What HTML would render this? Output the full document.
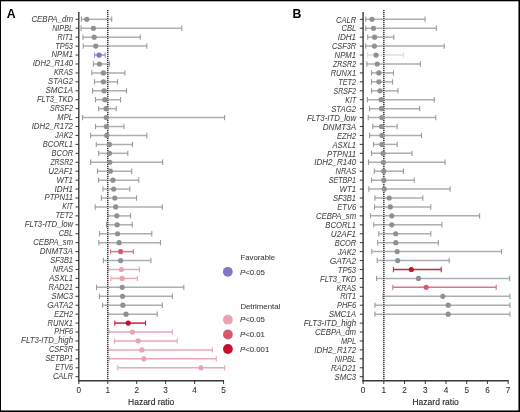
<!DOCTYPE html>
<html><head><meta charset="utf-8">
<style>
html,body{margin:0;padding:0;background:#fff;}
body{width:520px;height:412px;overflow:hidden;position:relative;}
svg{position:absolute;left:0;top:0;will-change:transform;}
text{font-family:"Liberation Sans",sans-serif;}
.lb{font-size:8.6px;font-style:italic;fill:#444;stroke:#444;stroke-width:0.04px;text-anchor:end;}
.tk{font-size:8.2px;fill:#2a2a2a;stroke:#2a2a2a;stroke-width:0.06px;text-anchor:middle;}
.ax{font-size:8.5px;fill:#222;stroke:#222;stroke-width:0.1px;text-anchor:middle;}
.pl{font-size:12.3px;font-weight:bold;fill:#000;}
.lg{font-size:7.8px;fill:#383838;stroke:#383838;stroke-width:0.06px;}
.bd{position:absolute;background:#000;}
</style></head>
<body>
<svg width="520" height="412" viewBox="0 0 520 412">
<rect width="520" height="412" fill="#fff"/>
<line x1="81.4" y1="19.3" x2="111.7" y2="19.3" stroke="#acaeb1" stroke-width="1.5"/>
<line x1="81.1" y1="28.23" x2="181.8" y2="28.23" stroke="#acaeb1" stroke-width="1.5"/>
<line x1="82.9" y1="37.17" x2="140.3" y2="37.17" stroke="#acaeb1" stroke-width="1.5"/>
<line x1="83.2" y1="46.11" x2="146.8" y2="46.11" stroke="#acaeb1" stroke-width="1.5"/>
<line x1="94.5" y1="55.04" x2="105.2" y2="55.04" stroke="#9a97d4" stroke-width="1.5"/>
<line x1="93.4" y1="63.98" x2="109.5" y2="63.98" stroke="#acaeb1" stroke-width="1.5"/>
<line x1="91.8" y1="72.91" x2="124.9" y2="72.91" stroke="#acaeb1" stroke-width="1.5"/>
<line x1="94.5" y1="81.84" x2="117.5" y2="81.84" stroke="#acaeb1" stroke-width="1.5"/>
<line x1="92.5" y1="90.78" x2="126.5" y2="90.78" stroke="#acaeb1" stroke-width="1.5"/>
<line x1="95.5" y1="99.72" x2="120.6" y2="99.72" stroke="#acaeb1" stroke-width="1.5"/>
<line x1="98.6" y1="108.65" x2="116.3" y2="108.65" stroke="#acaeb1" stroke-width="1.5"/>
<line x1="82.5" y1="117.59" x2="224.6" y2="117.59" stroke="#acaeb1" stroke-width="1.5"/>
<line x1="95.5" y1="126.52" x2="124" y2="126.52" stroke="#acaeb1" stroke-width="1.5"/>
<line x1="90.6" y1="135.46" x2="146.8" y2="135.46" stroke="#acaeb1" stroke-width="1.5"/>
<line x1="96.3" y1="144.39" x2="132.5" y2="144.39" stroke="#acaeb1" stroke-width="1.5"/>
<line x1="98.6" y1="153.33" x2="127.8" y2="153.33" stroke="#acaeb1" stroke-width="1.5"/>
<line x1="90.6" y1="162.26" x2="162.6" y2="162.26" stroke="#acaeb1" stroke-width="1.5"/>
<line x1="97.5" y1="171.2" x2="131.7" y2="171.2" stroke="#acaeb1" stroke-width="1.5"/>
<line x1="98.6" y1="180.13" x2="138.8" y2="180.13" stroke="#acaeb1" stroke-width="1.5"/>
<line x1="102.9" y1="189.07" x2="129.8" y2="189.07" stroke="#acaeb1" stroke-width="1.5"/>
<line x1="101.4" y1="198" x2="136.5" y2="198" stroke="#acaeb1" stroke-width="1.5"/>
<line x1="95.2" y1="206.94" x2="162.3" y2="206.94" stroke="#acaeb1" stroke-width="1.5"/>
<line x1="108" y1="215.87" x2="130.6" y2="215.87" stroke="#acaeb1" stroke-width="1.5"/>
<line x1="106.5" y1="224.81" x2="132.2" y2="224.81" stroke="#acaeb1" stroke-width="1.5"/>
<line x1="99.5" y1="233.74" x2="151.8" y2="233.74" stroke="#acaeb1" stroke-width="1.5"/>
<line x1="98.8" y1="242.68" x2="160.5" y2="242.68" stroke="#acaeb1" stroke-width="1.5"/>
<line x1="110.6" y1="251.61" x2="133.4" y2="251.61" stroke="#df7489" stroke-width="1.5"/>
<line x1="103.4" y1="260.55" x2="150.9" y2="260.55" stroke="#acaeb1" stroke-width="1.5"/>
<line x1="108.6" y1="269.48" x2="139.5" y2="269.48" stroke="#eaa9b5" stroke-width="1.5"/>
<line x1="110.8" y1="278.42" x2="137.5" y2="278.42" stroke="#eaa9b5" stroke-width="1.5"/>
<line x1="96.5" y1="287.35" x2="183.8" y2="287.35" stroke="#acaeb1" stroke-width="1.5"/>
<line x1="99.4" y1="296.29" x2="172.3" y2="296.29" stroke="#acaeb1" stroke-width="1.5"/>
<line x1="102.5" y1="305.22" x2="162.3" y2="305.22" stroke="#acaeb1" stroke-width="1.5"/>
<line x1="108" y1="314.16" x2="157.2" y2="314.16" stroke="#acaeb1" stroke-width="1.5"/>
<line x1="114.8" y1="323.09" x2="145.5" y2="323.09" stroke="#cc2440" stroke-width="1.5"/>
<line x1="109" y1="332.03" x2="172.4" y2="332.03" stroke="#eaa9b5" stroke-width="1.5"/>
<line x1="114.5" y1="340.96" x2="177.3" y2="340.96" stroke="#eaa9b5" stroke-width="1.5"/>
<line x1="108.5" y1="349.9" x2="212.3" y2="349.9" stroke="#eaa9b5" stroke-width="1.5"/>
<line x1="109.3" y1="358.83" x2="216.3" y2="358.83" stroke="#eaa9b5" stroke-width="1.5"/>
<line x1="117.8" y1="367.77" x2="224.8" y2="367.77" stroke="#eaa9b5" stroke-width="1.5"/>
<line x1="81.4" y1="16.6" x2="81.4" y2="22" stroke="#999b9e" stroke-width="1.1"/>
<line x1="111.7" y1="16.6" x2="111.7" y2="22" stroke="#999b9e" stroke-width="1.1"/>
<line x1="81.1" y1="25.54" x2="81.1" y2="30.93" stroke="#999b9e" stroke-width="1.1"/>
<line x1="181.8" y1="25.54" x2="181.8" y2="30.93" stroke="#999b9e" stroke-width="1.1"/>
<line x1="82.9" y1="34.47" x2="82.9" y2="39.87" stroke="#999b9e" stroke-width="1.1"/>
<line x1="140.3" y1="34.47" x2="140.3" y2="39.87" stroke="#999b9e" stroke-width="1.1"/>
<line x1="83.2" y1="43.41" x2="83.2" y2="48.81" stroke="#999b9e" stroke-width="1.1"/>
<line x1="146.8" y1="43.41" x2="146.8" y2="48.81" stroke="#999b9e" stroke-width="1.1"/>
<line x1="94.5" y1="52.34" x2="94.5" y2="57.74" stroke="#9a97d4" stroke-width="1.1"/>
<line x1="105.2" y1="52.34" x2="105.2" y2="57.74" stroke="#9a97d4" stroke-width="1.1"/>
<line x1="93.4" y1="61.28" x2="93.4" y2="66.68" stroke="#999b9e" stroke-width="1.1"/>
<line x1="109.5" y1="61.28" x2="109.5" y2="66.68" stroke="#999b9e" stroke-width="1.1"/>
<line x1="91.8" y1="70.21" x2="91.8" y2="75.61" stroke="#999b9e" stroke-width="1.1"/>
<line x1="124.9" y1="70.21" x2="124.9" y2="75.61" stroke="#999b9e" stroke-width="1.1"/>
<line x1="94.5" y1="79.14" x2="94.5" y2="84.55" stroke="#999b9e" stroke-width="1.1"/>
<line x1="117.5" y1="79.14" x2="117.5" y2="84.55" stroke="#999b9e" stroke-width="1.1"/>
<line x1="92.5" y1="88.08" x2="92.5" y2="93.48" stroke="#999b9e" stroke-width="1.1"/>
<line x1="126.5" y1="88.08" x2="126.5" y2="93.48" stroke="#999b9e" stroke-width="1.1"/>
<line x1="95.5" y1="97.02" x2="95.5" y2="102.42" stroke="#999b9e" stroke-width="1.1"/>
<line x1="120.6" y1="97.02" x2="120.6" y2="102.42" stroke="#999b9e" stroke-width="1.1"/>
<line x1="98.6" y1="105.95" x2="98.6" y2="111.35" stroke="#999b9e" stroke-width="1.1"/>
<line x1="116.3" y1="105.95" x2="116.3" y2="111.35" stroke="#999b9e" stroke-width="1.1"/>
<line x1="82.5" y1="114.89" x2="82.5" y2="120.29" stroke="#999b9e" stroke-width="1.1"/>
<line x1="224.6" y1="114.89" x2="224.6" y2="120.29" stroke="#999b9e" stroke-width="1.1"/>
<line x1="95.5" y1="123.82" x2="95.5" y2="129.22" stroke="#999b9e" stroke-width="1.1"/>
<line x1="124" y1="123.82" x2="124" y2="129.22" stroke="#999b9e" stroke-width="1.1"/>
<line x1="90.6" y1="132.76" x2="90.6" y2="138.16" stroke="#999b9e" stroke-width="1.1"/>
<line x1="146.8" y1="132.76" x2="146.8" y2="138.16" stroke="#999b9e" stroke-width="1.1"/>
<line x1="96.3" y1="141.69" x2="96.3" y2="147.09" stroke="#999b9e" stroke-width="1.1"/>
<line x1="132.5" y1="141.69" x2="132.5" y2="147.09" stroke="#999b9e" stroke-width="1.1"/>
<line x1="98.6" y1="150.63" x2="98.6" y2="156.03" stroke="#999b9e" stroke-width="1.1"/>
<line x1="127.8" y1="150.63" x2="127.8" y2="156.03" stroke="#999b9e" stroke-width="1.1"/>
<line x1="90.6" y1="159.56" x2="90.6" y2="164.96" stroke="#999b9e" stroke-width="1.1"/>
<line x1="162.6" y1="159.56" x2="162.6" y2="164.96" stroke="#999b9e" stroke-width="1.1"/>
<line x1="97.5" y1="168.5" x2="97.5" y2="173.9" stroke="#999b9e" stroke-width="1.1"/>
<line x1="131.7" y1="168.5" x2="131.7" y2="173.9" stroke="#999b9e" stroke-width="1.1"/>
<line x1="98.6" y1="177.43" x2="98.6" y2="182.83" stroke="#999b9e" stroke-width="1.1"/>
<line x1="138.8" y1="177.43" x2="138.8" y2="182.83" stroke="#999b9e" stroke-width="1.1"/>
<line x1="102.9" y1="186.37" x2="102.9" y2="191.77" stroke="#999b9e" stroke-width="1.1"/>
<line x1="129.8" y1="186.37" x2="129.8" y2="191.77" stroke="#999b9e" stroke-width="1.1"/>
<line x1="101.4" y1="195.3" x2="101.4" y2="200.7" stroke="#999b9e" stroke-width="1.1"/>
<line x1="136.5" y1="195.3" x2="136.5" y2="200.7" stroke="#999b9e" stroke-width="1.1"/>
<line x1="95.2" y1="204.24" x2="95.2" y2="209.64" stroke="#999b9e" stroke-width="1.1"/>
<line x1="162.3" y1="204.24" x2="162.3" y2="209.64" stroke="#999b9e" stroke-width="1.1"/>
<line x1="108" y1="213.17" x2="108" y2="218.57" stroke="#999b9e" stroke-width="1.1"/>
<line x1="130.6" y1="213.17" x2="130.6" y2="218.57" stroke="#999b9e" stroke-width="1.1"/>
<line x1="106.5" y1="222.11" x2="106.5" y2="227.51" stroke="#999b9e" stroke-width="1.1"/>
<line x1="132.2" y1="222.11" x2="132.2" y2="227.51" stroke="#999b9e" stroke-width="1.1"/>
<line x1="99.5" y1="231.04" x2="99.5" y2="236.44" stroke="#999b9e" stroke-width="1.1"/>
<line x1="151.8" y1="231.04" x2="151.8" y2="236.44" stroke="#999b9e" stroke-width="1.1"/>
<line x1="98.8" y1="239.98" x2="98.8" y2="245.38" stroke="#999b9e" stroke-width="1.1"/>
<line x1="160.5" y1="239.98" x2="160.5" y2="245.38" stroke="#999b9e" stroke-width="1.1"/>
<line x1="110.6" y1="248.91" x2="110.6" y2="254.31" stroke="#df7489" stroke-width="1.1"/>
<line x1="133.4" y1="248.91" x2="133.4" y2="254.31" stroke="#df7489" stroke-width="1.1"/>
<line x1="103.4" y1="257.85" x2="103.4" y2="263.25" stroke="#999b9e" stroke-width="1.1"/>
<line x1="150.9" y1="257.85" x2="150.9" y2="263.25" stroke="#999b9e" stroke-width="1.1"/>
<line x1="108.6" y1="266.78" x2="108.6" y2="272.18" stroke="#eaa9b5" stroke-width="1.1"/>
<line x1="139.5" y1="266.78" x2="139.5" y2="272.18" stroke="#eaa9b5" stroke-width="1.1"/>
<line x1="110.8" y1="275.72" x2="110.8" y2="281.12" stroke="#eaa9b5" stroke-width="1.1"/>
<line x1="137.5" y1="275.72" x2="137.5" y2="281.12" stroke="#eaa9b5" stroke-width="1.1"/>
<line x1="96.5" y1="284.65" x2="96.5" y2="290.05" stroke="#999b9e" stroke-width="1.1"/>
<line x1="183.8" y1="284.65" x2="183.8" y2="290.05" stroke="#999b9e" stroke-width="1.1"/>
<line x1="99.4" y1="293.59" x2="99.4" y2="298.99" stroke="#999b9e" stroke-width="1.1"/>
<line x1="172.3" y1="293.59" x2="172.3" y2="298.99" stroke="#999b9e" stroke-width="1.1"/>
<line x1="102.5" y1="302.52" x2="102.5" y2="307.92" stroke="#999b9e" stroke-width="1.1"/>
<line x1="162.3" y1="302.52" x2="162.3" y2="307.92" stroke="#999b9e" stroke-width="1.1"/>
<line x1="108" y1="311.46" x2="108" y2="316.86" stroke="#999b9e" stroke-width="1.1"/>
<line x1="157.2" y1="311.46" x2="157.2" y2="316.86" stroke="#999b9e" stroke-width="1.1"/>
<line x1="114.8" y1="320.39" x2="114.8" y2="325.79" stroke="#cc2440" stroke-width="1.1"/>
<line x1="145.5" y1="320.39" x2="145.5" y2="325.79" stroke="#cc2440" stroke-width="1.1"/>
<line x1="109" y1="329.33" x2="109" y2="334.73" stroke="#eaa9b5" stroke-width="1.1"/>
<line x1="172.4" y1="329.33" x2="172.4" y2="334.73" stroke="#eaa9b5" stroke-width="1.1"/>
<line x1="114.5" y1="338.26" x2="114.5" y2="343.66" stroke="#eaa9b5" stroke-width="1.1"/>
<line x1="177.3" y1="338.26" x2="177.3" y2="343.66" stroke="#eaa9b5" stroke-width="1.1"/>
<line x1="108.5" y1="347.2" x2="108.5" y2="352.6" stroke="#eaa9b5" stroke-width="1.1"/>
<line x1="212.3" y1="347.2" x2="212.3" y2="352.6" stroke="#eaa9b5" stroke-width="1.1"/>
<line x1="109.3" y1="356.13" x2="109.3" y2="361.53" stroke="#eaa9b5" stroke-width="1.1"/>
<line x1="216.3" y1="356.13" x2="216.3" y2="361.53" stroke="#eaa9b5" stroke-width="1.1"/>
<line x1="117.8" y1="365.07" x2="117.8" y2="370.47" stroke="#eaa9b5" stroke-width="1.1"/>
<line x1="224.8" y1="365.07" x2="224.8" y2="370.47" stroke="#eaa9b5" stroke-width="1.1"/>
<line x1="107.75" y1="10" x2="107.75" y2="380" stroke="#cfcfcf" stroke-width="1.4"/>
<line x1="107.75" y1="10" x2="107.75" y2="380" stroke="#2e2e2e" stroke-width="1.4" stroke-dasharray="1 1"/>
<circle cx="86.8" cy="19.3" r="2.6" fill="#8e9093"/>
<circle cx="93.4" cy="28.23" r="2.6" fill="#8e9093"/>
<circle cx="94.2" cy="37.17" r="2.6" fill="#8e9093"/>
<circle cx="95.7" cy="46.11" r="2.6" fill="#8e9093"/>
<circle cx="99.1" cy="55.04" r="2.6" fill="#7c78c3"/>
<circle cx="99.5" cy="63.98" r="2.6" fill="#8e9093"/>
<circle cx="103.4" cy="72.91" r="2.6" fill="#8e9093"/>
<circle cx="103.4" cy="81.84" r="2.6" fill="#8e9093"/>
<circle cx="104" cy="90.78" r="2.6" fill="#8e9093"/>
<circle cx="104.9" cy="99.72" r="2.6" fill="#8e9093"/>
<circle cx="106" cy="108.65" r="2.6" fill="#8e9093"/>
<circle cx="106.2" cy="117.59" r="2.6" fill="#8e9093"/>
<circle cx="106.3" cy="126.52" r="2.6" fill="#8e9093"/>
<circle cx="106.8" cy="135.46" r="2.6" fill="#8e9093"/>
<circle cx="109.4" cy="144.39" r="2.6" fill="#8e9093"/>
<circle cx="109.5" cy="153.33" r="2.6" fill="#8e9093"/>
<circle cx="109.8" cy="162.26" r="2.6" fill="#8e9093"/>
<circle cx="110.3" cy="171.2" r="2.6" fill="#8e9093"/>
<circle cx="112.9" cy="180.13" r="2.6" fill="#8e9093"/>
<circle cx="113.7" cy="189.07" r="2.6" fill="#8e9093"/>
<circle cx="114.8" cy="198" r="2.6" fill="#8e9093"/>
<circle cx="115.7" cy="206.94" r="2.6" fill="#8e9093"/>
<circle cx="116.8" cy="215.87" r="2.6" fill="#8e9093"/>
<circle cx="117.1" cy="224.81" r="2.6" fill="#8e9093"/>
<circle cx="117.5" cy="233.74" r="2.6" fill="#8e9093"/>
<circle cx="119.1" cy="242.68" r="2.6" fill="#8e9093"/>
<circle cx="120.6" cy="251.61" r="2.6" fill="#d7576f"/>
<circle cx="120.6" cy="260.55" r="2.6" fill="#8e9093"/>
<circle cx="121.4" cy="269.48" r="2.6" fill="#e9a3b0"/>
<circle cx="122.2" cy="278.42" r="2.6" fill="#e9a3b0"/>
<circle cx="122.2" cy="287.35" r="2.6" fill="#8e9093"/>
<circle cx="122.6" cy="296.29" r="2.6" fill="#8e9093"/>
<circle cx="122.9" cy="305.22" r="2.6" fill="#8e9093"/>
<circle cx="126" cy="314.16" r="2.6" fill="#8e9093"/>
<circle cx="128.2" cy="323.09" r="2.6" fill="#c8102e"/>
<circle cx="132.4" cy="332.03" r="2.6" fill="#e9a3b0"/>
<circle cx="138.1" cy="340.96" r="2.6" fill="#e9a3b0"/>
<circle cx="141.9" cy="349.9" r="2.6" fill="#e9a3b0"/>
<circle cx="143.8" cy="358.83" r="2.6" fill="#e9a3b0"/>
<circle cx="200.9" cy="367.77" r="2.6" fill="#e9a3b0"/>
<line x1="78.8" y1="11.9" x2="78.8" y2="381.4" stroke="#383838" stroke-width="1.4"/>
<line x1="78.1" y1="380.7" x2="224.05" y2="380.7" stroke="#383838" stroke-width="1.4"/>
<line x1="75.5" y1="19.3" x2="78.8" y2="19.3" stroke="#383838" stroke-width="1"/>
<text x="73" y="21.75" class="lb" textLength="41.61" lengthAdjust="spacingAndGlyphs">CEBPA_dm</text>
<line x1="75.5" y1="28.23" x2="78.8" y2="28.23" stroke="#383838" stroke-width="1"/>
<text x="73" y="30.68" class="lb" textLength="20.83" lengthAdjust="spacingAndGlyphs">NIPBL</text>
<line x1="75.5" y1="37.17" x2="78.8" y2="37.17" stroke="#383838" stroke-width="1"/>
<text x="73" y="39.62" class="lb" textLength="15.41" lengthAdjust="spacingAndGlyphs">RIT1</text>
<line x1="75.5" y1="46.11" x2="78.8" y2="46.11" stroke="#383838" stroke-width="1"/>
<text x="73" y="48.56" class="lb" textLength="17.83" lengthAdjust="spacingAndGlyphs">TP53</text>
<line x1="75.5" y1="55.04" x2="78.8" y2="55.04" stroke="#383838" stroke-width="1"/>
<text x="73" y="57.49" class="lb" textLength="21.46" lengthAdjust="spacingAndGlyphs">NPM1</text>
<line x1="75.5" y1="63.98" x2="78.8" y2="63.98" stroke="#383838" stroke-width="1"/>
<text x="73" y="66.43" class="lb" textLength="40.32" lengthAdjust="spacingAndGlyphs">IDH2_R140</text>
<line x1="75.5" y1="72.91" x2="78.8" y2="72.91" stroke="#383838" stroke-width="1"/>
<text x="73" y="75.36" class="lb" textLength="19.06" lengthAdjust="spacingAndGlyphs">KRAS</text>
<line x1="75.5" y1="81.84" x2="78.8" y2="81.84" stroke="#383838" stroke-width="1"/>
<text x="73" y="84.3" class="lb" textLength="24.97" lengthAdjust="spacingAndGlyphs">STAG2</text>
<line x1="75.5" y1="90.78" x2="78.8" y2="90.78" stroke="#383838" stroke-width="1"/>
<text x="73" y="93.23" class="lb" textLength="27.43" lengthAdjust="spacingAndGlyphs">SMC1A</text>
<line x1="75.5" y1="99.72" x2="78.8" y2="99.72" stroke="#383838" stroke-width="1"/>
<text x="73" y="102.17" class="lb" textLength="36.02" lengthAdjust="spacingAndGlyphs">FLT3_TKD</text>
<line x1="75.5" y1="108.65" x2="78.8" y2="108.65" stroke="#383838" stroke-width="1"/>
<text x="73" y="111.1" class="lb" textLength="23.11" lengthAdjust="spacingAndGlyphs">SRSF2</text>
<line x1="75.5" y1="117.59" x2="78.8" y2="117.59" stroke="#383838" stroke-width="1"/>
<text x="73" y="120.04" class="lb" textLength="15.68" lengthAdjust="spacingAndGlyphs">MPL</text>
<line x1="75.5" y1="126.52" x2="78.8" y2="126.52" stroke="#383838" stroke-width="1"/>
<text x="73" y="128.97" class="lb" textLength="41.32" lengthAdjust="spacingAndGlyphs">IDH2_R172</text>
<line x1="75.5" y1="135.46" x2="78.8" y2="135.46" stroke="#383838" stroke-width="1"/>
<text x="73" y="137.91" class="lb" textLength="17.88" lengthAdjust="spacingAndGlyphs">JAK2</text>
<line x1="75.5" y1="144.39" x2="78.8" y2="144.39" stroke="#383838" stroke-width="1"/>
<text x="73" y="146.84" class="lb" textLength="30.37" lengthAdjust="spacingAndGlyphs">BCORL1</text>
<line x1="75.5" y1="153.33" x2="78.8" y2="153.33" stroke="#383838" stroke-width="1"/>
<text x="73" y="155.78" class="lb" textLength="21.38" lengthAdjust="spacingAndGlyphs">BCOR</text>
<line x1="75.5" y1="162.26" x2="78.8" y2="162.26" stroke="#383838" stroke-width="1"/>
<text x="73" y="164.71" class="lb" textLength="22.62" lengthAdjust="spacingAndGlyphs">ZRSR2</text>
<line x1="75.5" y1="171.2" x2="78.8" y2="171.2" stroke="#383838" stroke-width="1"/>
<text x="73" y="173.65" class="lb" textLength="24.73" lengthAdjust="spacingAndGlyphs">U2AF1</text>
<line x1="75.5" y1="180.13" x2="78.8" y2="180.13" stroke="#383838" stroke-width="1"/>
<text x="73" y="182.58" class="lb" textLength="16.62" lengthAdjust="spacingAndGlyphs">WT1</text>
<line x1="75.5" y1="189.07" x2="78.8" y2="189.07" stroke="#383838" stroke-width="1"/>
<text x="73" y="191.52" class="lb" textLength="18.45" lengthAdjust="spacingAndGlyphs">IDH1</text>
<line x1="75.5" y1="198" x2="78.8" y2="198" stroke="#383838" stroke-width="1"/>
<text x="73" y="200.45" class="lb" textLength="28.48" lengthAdjust="spacingAndGlyphs">PTPN11</text>
<line x1="75.5" y1="206.94" x2="78.8" y2="206.94" stroke="#383838" stroke-width="1"/>
<text x="73" y="209.39" class="lb" textLength="10.66" lengthAdjust="spacingAndGlyphs">KIT</text>
<line x1="75.5" y1="215.87" x2="78.8" y2="215.87" stroke="#383838" stroke-width="1"/>
<text x="73" y="218.32" class="lb" textLength="17.24" lengthAdjust="spacingAndGlyphs">TET2</text>
<line x1="75.5" y1="224.81" x2="78.8" y2="224.81" stroke="#383838" stroke-width="1"/>
<text x="73" y="227.26" class="lb" textLength="48.28" lengthAdjust="spacingAndGlyphs">FLT3-ITD_low</text>
<line x1="75.5" y1="233.74" x2="78.8" y2="233.74" stroke="#383838" stroke-width="1"/>
<text x="73" y="236.19" class="lb" textLength="14.16" lengthAdjust="spacingAndGlyphs">CBL</text>
<line x1="75.5" y1="242.68" x2="78.8" y2="242.68" stroke="#383838" stroke-width="1"/>
<text x="73" y="245.12" class="lb" textLength="39.67" lengthAdjust="spacingAndGlyphs">CEBPA_sm</text>
<line x1="75.5" y1="251.61" x2="78.8" y2="251.61" stroke="#383838" stroke-width="1"/>
<text x="73" y="254.06" class="lb" textLength="33.31" lengthAdjust="spacingAndGlyphs">DNMT3A</text>
<line x1="75.5" y1="260.55" x2="78.8" y2="260.55" stroke="#383838" stroke-width="1"/>
<text x="73" y="263" class="lb" textLength="22.7" lengthAdjust="spacingAndGlyphs">SF3B1</text>
<line x1="75.5" y1="269.48" x2="78.8" y2="269.48" stroke="#383838" stroke-width="1"/>
<text x="73" y="271.93" class="lb" textLength="19.99" lengthAdjust="spacingAndGlyphs">NRAS</text>
<line x1="75.5" y1="278.42" x2="78.8" y2="278.42" stroke="#383838" stroke-width="1"/>
<text x="73" y="280.87" class="lb" textLength="23.73" lengthAdjust="spacingAndGlyphs">ASXL1</text>
<line x1="75.5" y1="287.35" x2="78.8" y2="287.35" stroke="#383838" stroke-width="1"/>
<text x="73" y="289.8" class="lb" textLength="24.56" lengthAdjust="spacingAndGlyphs">RAD21</text>
<line x1="75.5" y1="296.29" x2="78.8" y2="296.29" stroke="#383838" stroke-width="1"/>
<text x="73" y="298.74" class="lb" textLength="21.5" lengthAdjust="spacingAndGlyphs">SMC3</text>
<line x1="75.5" y1="305.22" x2="78.8" y2="305.22" stroke="#383838" stroke-width="1"/>
<text x="73" y="307.67" class="lb" textLength="25.87" lengthAdjust="spacingAndGlyphs">GATA2</text>
<line x1="75.5" y1="314.16" x2="78.8" y2="314.16" stroke="#383838" stroke-width="1"/>
<text x="73" y="316.61" class="lb" textLength="18.75" lengthAdjust="spacingAndGlyphs">EZH2</text>
<line x1="75.5" y1="323.09" x2="78.8" y2="323.09" stroke="#383838" stroke-width="1"/>
<text x="73" y="325.54" class="lb" textLength="25.4" lengthAdjust="spacingAndGlyphs">RUNX1</text>
<line x1="75.5" y1="332.03" x2="78.8" y2="332.03" stroke="#383838" stroke-width="1"/>
<text x="73" y="334.48" class="lb" textLength="18.75" lengthAdjust="spacingAndGlyphs">PHF6</text>
<line x1="75.5" y1="340.96" x2="78.8" y2="340.96" stroke="#383838" stroke-width="1"/>
<text x="73" y="343.41" class="lb" textLength="51.88" lengthAdjust="spacingAndGlyphs">FLT3-ITD_high</text>
<line x1="75.5" y1="349.9" x2="78.8" y2="349.9" stroke="#383838" stroke-width="1"/>
<text x="73" y="352.35" class="lb" textLength="24.03" lengthAdjust="spacingAndGlyphs">CSF3R</text>
<line x1="75.5" y1="358.83" x2="78.8" y2="358.83" stroke="#383838" stroke-width="1"/>
<text x="73" y="361.28" class="lb" textLength="27.47" lengthAdjust="spacingAndGlyphs">SETBP1</text>
<line x1="75.5" y1="367.77" x2="78.8" y2="367.77" stroke="#383838" stroke-width="1"/>
<text x="73" y="370.22" class="lb" textLength="17.78" lengthAdjust="spacingAndGlyphs">ETV6</text>
<line x1="75.5" y1="376.7" x2="78.8" y2="376.7" stroke="#383838" stroke-width="1"/>
<text x="73" y="379.15" class="lb" textLength="20.08" lengthAdjust="spacingAndGlyphs">CALR</text>
<line x1="78.8" y1="380.7" x2="78.8" y2="384" stroke="#383838" stroke-width="1"/>
<text x="78.8" y="393.2" class="tk">0</text>
<line x1="107.75" y1="380.7" x2="107.75" y2="384" stroke="#383838" stroke-width="1"/>
<text x="107.75" y="393.2" class="tk">1</text>
<line x1="136.7" y1="380.7" x2="136.7" y2="384" stroke="#383838" stroke-width="1"/>
<text x="136.7" y="393.2" class="tk">2</text>
<line x1="165.65" y1="380.7" x2="165.65" y2="384" stroke="#383838" stroke-width="1"/>
<text x="165.65" y="393.2" class="tk">3</text>
<line x1="194.6" y1="380.7" x2="194.6" y2="384" stroke="#383838" stroke-width="1"/>
<text x="194.6" y="393.2" class="tk">4</text>
<line x1="223.55" y1="380.7" x2="223.55" y2="384" stroke="#383838" stroke-width="1"/>
<text x="223.55" y="393.2" class="tk">5</text>
<text x="151.18" y="404.6" class="ax">Hazard ratio</text>
<text x="6.7" y="17.6" class="pl">A</text>
<line x1="365.7" y1="19.3" x2="425.1" y2="19.3" stroke="#acaeb1" stroke-width="1.5"/>
<line x1="365.7" y1="28.23" x2="436.3" y2="28.23" stroke="#acaeb1" stroke-width="1.5"/>
<line x1="367.7" y1="37.17" x2="393.8" y2="37.17" stroke="#acaeb1" stroke-width="1.5"/>
<line x1="365.6" y1="46.11" x2="444.2" y2="46.11" stroke="#acaeb1" stroke-width="1.5"/>
<line x1="367.6" y1="55.04" x2="403.5" y2="55.04" stroke="#dcdcdc" stroke-width="1.5"/>
<line x1="366.9" y1="63.98" x2="420.3" y2="63.98" stroke="#acaeb1" stroke-width="1.5"/>
<line x1="371.5" y1="72.91" x2="393.5" y2="72.91" stroke="#acaeb1" stroke-width="1.5"/>
<line x1="371.5" y1="81.84" x2="392.6" y2="81.84" stroke="#acaeb1" stroke-width="1.5"/>
<line x1="371.5" y1="90.78" x2="398" y2="90.78" stroke="#acaeb1" stroke-width="1.5"/>
<line x1="367.4" y1="99.72" x2="434.3" y2="99.72" stroke="#acaeb1" stroke-width="1.5"/>
<line x1="369.5" y1="108.65" x2="419.7" y2="108.65" stroke="#acaeb1" stroke-width="1.5"/>
<line x1="368.2" y1="117.59" x2="435.8" y2="117.59" stroke="#acaeb1" stroke-width="1.5"/>
<line x1="372.8" y1="126.52" x2="397.2" y2="126.52" stroke="#acaeb1" stroke-width="1.5"/>
<line x1="369.5" y1="135.46" x2="421.5" y2="135.46" stroke="#acaeb1" stroke-width="1.5"/>
<line x1="373.5" y1="144.39" x2="397.2" y2="144.39" stroke="#acaeb1" stroke-width="1.5"/>
<line x1="371.5" y1="153.33" x2="412" y2="153.33" stroke="#acaeb1" stroke-width="1.5"/>
<line x1="368.5" y1="162.26" x2="445" y2="162.26" stroke="#acaeb1" stroke-width="1.5"/>
<line x1="374.3" y1="171.2" x2="403.4" y2="171.2" stroke="#acaeb1" stroke-width="1.5"/>
<line x1="371.5" y1="180.13" x2="414.3" y2="180.13" stroke="#acaeb1" stroke-width="1.5"/>
<line x1="368.8" y1="189.07" x2="450.1" y2="189.07" stroke="#acaeb1" stroke-width="1.5"/>
<line x1="374.9" y1="198" x2="422.8" y2="198" stroke="#acaeb1" stroke-width="1.5"/>
<line x1="374.6" y1="206.94" x2="430.8" y2="206.94" stroke="#acaeb1" stroke-width="1.5"/>
<line x1="370.5" y1="215.87" x2="479.6" y2="215.87" stroke="#acaeb1" stroke-width="1.5"/>
<line x1="373.8" y1="224.81" x2="441.9" y2="224.81" stroke="#acaeb1" stroke-width="1.5"/>
<line x1="378.8" y1="233.74" x2="430.8" y2="233.74" stroke="#acaeb1" stroke-width="1.5"/>
<line x1="377.7" y1="242.68" x2="438.3" y2="242.68" stroke="#acaeb1" stroke-width="1.5"/>
<line x1="371.8" y1="251.61" x2="501.5" y2="251.61" stroke="#acaeb1" stroke-width="1.5"/>
<line x1="377.2" y1="260.55" x2="449.2" y2="260.55" stroke="#acaeb1" stroke-width="1.5"/>
<line x1="393.4" y1="269.48" x2="441.2" y2="269.48" stroke="#cc2440" stroke-width="1.5"/>
<line x1="376.6" y1="278.42" x2="509.6" y2="278.42" stroke="#acaeb1" stroke-width="1.5"/>
<line x1="392.8" y1="287.35" x2="496.2" y2="287.35" stroke="#df7489" stroke-width="1.5"/>
<line x1="383" y1="296.29" x2="509.9" y2="296.29" stroke="#acaeb1" stroke-width="1.5"/>
<line x1="374.9" y1="305.22" x2="509.9" y2="305.22" stroke="#acaeb1" stroke-width="1.5"/>
<line x1="374.9" y1="314.16" x2="509.9" y2="314.16" stroke="#acaeb1" stroke-width="1.5"/>
<line x1="365.7" y1="16.6" x2="365.7" y2="22" stroke="#999b9e" stroke-width="1.1"/>
<line x1="425.1" y1="16.6" x2="425.1" y2="22" stroke="#999b9e" stroke-width="1.1"/>
<line x1="365.7" y1="25.54" x2="365.7" y2="30.93" stroke="#999b9e" stroke-width="1.1"/>
<line x1="436.3" y1="25.54" x2="436.3" y2="30.93" stroke="#999b9e" stroke-width="1.1"/>
<line x1="367.7" y1="34.47" x2="367.7" y2="39.87" stroke="#999b9e" stroke-width="1.1"/>
<line x1="393.8" y1="34.47" x2="393.8" y2="39.87" stroke="#999b9e" stroke-width="1.1"/>
<line x1="365.6" y1="43.41" x2="365.6" y2="48.81" stroke="#999b9e" stroke-width="1.1"/>
<line x1="444.2" y1="43.41" x2="444.2" y2="48.81" stroke="#999b9e" stroke-width="1.1"/>
<line x1="367.6" y1="52.34" x2="367.6" y2="57.74" stroke="#dcdcdc" stroke-width="1.1"/>
<line x1="403.5" y1="52.34" x2="403.5" y2="57.74" stroke="#dcdcdc" stroke-width="1.1"/>
<line x1="366.9" y1="61.28" x2="366.9" y2="66.68" stroke="#999b9e" stroke-width="1.1"/>
<line x1="420.3" y1="61.28" x2="420.3" y2="66.68" stroke="#999b9e" stroke-width="1.1"/>
<line x1="371.5" y1="70.21" x2="371.5" y2="75.61" stroke="#999b9e" stroke-width="1.1"/>
<line x1="393.5" y1="70.21" x2="393.5" y2="75.61" stroke="#999b9e" stroke-width="1.1"/>
<line x1="371.5" y1="79.14" x2="371.5" y2="84.55" stroke="#999b9e" stroke-width="1.1"/>
<line x1="392.6" y1="79.14" x2="392.6" y2="84.55" stroke="#999b9e" stroke-width="1.1"/>
<line x1="371.5" y1="88.08" x2="371.5" y2="93.48" stroke="#999b9e" stroke-width="1.1"/>
<line x1="398" y1="88.08" x2="398" y2="93.48" stroke="#999b9e" stroke-width="1.1"/>
<line x1="367.4" y1="97.02" x2="367.4" y2="102.42" stroke="#999b9e" stroke-width="1.1"/>
<line x1="434.3" y1="97.02" x2="434.3" y2="102.42" stroke="#999b9e" stroke-width="1.1"/>
<line x1="369.5" y1="105.95" x2="369.5" y2="111.35" stroke="#999b9e" stroke-width="1.1"/>
<line x1="419.7" y1="105.95" x2="419.7" y2="111.35" stroke="#999b9e" stroke-width="1.1"/>
<line x1="368.2" y1="114.89" x2="368.2" y2="120.29" stroke="#999b9e" stroke-width="1.1"/>
<line x1="435.8" y1="114.89" x2="435.8" y2="120.29" stroke="#999b9e" stroke-width="1.1"/>
<line x1="372.8" y1="123.82" x2="372.8" y2="129.22" stroke="#999b9e" stroke-width="1.1"/>
<line x1="397.2" y1="123.82" x2="397.2" y2="129.22" stroke="#999b9e" stroke-width="1.1"/>
<line x1="369.5" y1="132.76" x2="369.5" y2="138.16" stroke="#999b9e" stroke-width="1.1"/>
<line x1="421.5" y1="132.76" x2="421.5" y2="138.16" stroke="#999b9e" stroke-width="1.1"/>
<line x1="373.5" y1="141.69" x2="373.5" y2="147.09" stroke="#999b9e" stroke-width="1.1"/>
<line x1="397.2" y1="141.69" x2="397.2" y2="147.09" stroke="#999b9e" stroke-width="1.1"/>
<line x1="371.5" y1="150.63" x2="371.5" y2="156.03" stroke="#999b9e" stroke-width="1.1"/>
<line x1="412" y1="150.63" x2="412" y2="156.03" stroke="#999b9e" stroke-width="1.1"/>
<line x1="368.5" y1="159.56" x2="368.5" y2="164.96" stroke="#999b9e" stroke-width="1.1"/>
<line x1="445" y1="159.56" x2="445" y2="164.96" stroke="#999b9e" stroke-width="1.1"/>
<line x1="374.3" y1="168.5" x2="374.3" y2="173.9" stroke="#999b9e" stroke-width="1.1"/>
<line x1="403.4" y1="168.5" x2="403.4" y2="173.9" stroke="#999b9e" stroke-width="1.1"/>
<line x1="371.5" y1="177.43" x2="371.5" y2="182.83" stroke="#999b9e" stroke-width="1.1"/>
<line x1="414.3" y1="177.43" x2="414.3" y2="182.83" stroke="#999b9e" stroke-width="1.1"/>
<line x1="368.8" y1="186.37" x2="368.8" y2="191.77" stroke="#999b9e" stroke-width="1.1"/>
<line x1="450.1" y1="186.37" x2="450.1" y2="191.77" stroke="#999b9e" stroke-width="1.1"/>
<line x1="374.9" y1="195.3" x2="374.9" y2="200.7" stroke="#999b9e" stroke-width="1.1"/>
<line x1="422.8" y1="195.3" x2="422.8" y2="200.7" stroke="#999b9e" stroke-width="1.1"/>
<line x1="374.6" y1="204.24" x2="374.6" y2="209.64" stroke="#999b9e" stroke-width="1.1"/>
<line x1="430.8" y1="204.24" x2="430.8" y2="209.64" stroke="#999b9e" stroke-width="1.1"/>
<line x1="370.5" y1="213.17" x2="370.5" y2="218.57" stroke="#999b9e" stroke-width="1.1"/>
<line x1="479.6" y1="213.17" x2="479.6" y2="218.57" stroke="#999b9e" stroke-width="1.1"/>
<line x1="373.8" y1="222.11" x2="373.8" y2="227.51" stroke="#999b9e" stroke-width="1.1"/>
<line x1="441.9" y1="222.11" x2="441.9" y2="227.51" stroke="#999b9e" stroke-width="1.1"/>
<line x1="378.8" y1="231.04" x2="378.8" y2="236.44" stroke="#999b9e" stroke-width="1.1"/>
<line x1="430.8" y1="231.04" x2="430.8" y2="236.44" stroke="#999b9e" stroke-width="1.1"/>
<line x1="377.7" y1="239.98" x2="377.7" y2="245.38" stroke="#999b9e" stroke-width="1.1"/>
<line x1="438.3" y1="239.98" x2="438.3" y2="245.38" stroke="#999b9e" stroke-width="1.1"/>
<line x1="371.8" y1="248.91" x2="371.8" y2="254.31" stroke="#999b9e" stroke-width="1.1"/>
<line x1="501.5" y1="248.91" x2="501.5" y2="254.31" stroke="#999b9e" stroke-width="1.1"/>
<line x1="377.2" y1="257.85" x2="377.2" y2="263.25" stroke="#999b9e" stroke-width="1.1"/>
<line x1="449.2" y1="257.85" x2="449.2" y2="263.25" stroke="#999b9e" stroke-width="1.1"/>
<line x1="393.4" y1="266.78" x2="393.4" y2="272.18" stroke="#cc2440" stroke-width="1.1"/>
<line x1="441.2" y1="266.78" x2="441.2" y2="272.18" stroke="#cc2440" stroke-width="1.1"/>
<line x1="376.6" y1="275.72" x2="376.6" y2="281.12" stroke="#999b9e" stroke-width="1.1"/>
<line x1="509.6" y1="275.72" x2="509.6" y2="281.12" stroke="#999b9e" stroke-width="1.1"/>
<line x1="392.8" y1="284.65" x2="392.8" y2="290.05" stroke="#df7489" stroke-width="1.1"/>
<line x1="496.2" y1="284.65" x2="496.2" y2="290.05" stroke="#df7489" stroke-width="1.1"/>
<line x1="383" y1="293.59" x2="383" y2="298.99" stroke="#999b9e" stroke-width="1.1"/>
<line x1="509.9" y1="293.59" x2="509.9" y2="298.99" stroke="#999b9e" stroke-width="1.1"/>
<line x1="374.9" y1="302.52" x2="374.9" y2="307.92" stroke="#999b9e" stroke-width="1.1"/>
<line x1="509.9" y1="302.52" x2="509.9" y2="307.92" stroke="#999b9e" stroke-width="1.1"/>
<line x1="374.9" y1="311.46" x2="374.9" y2="316.86" stroke="#999b9e" stroke-width="1.1"/>
<line x1="509.9" y1="311.46" x2="509.9" y2="316.86" stroke="#999b9e" stroke-width="1.1"/>
<line x1="383.82" y1="10" x2="383.82" y2="380" stroke="#cfcfcf" stroke-width="1.4"/>
<line x1="383.82" y1="10" x2="383.82" y2="380" stroke="#2e2e2e" stroke-width="1.4" stroke-dasharray="1 1"/>
<circle cx="372" cy="19.3" r="2.6" fill="#8e9093"/>
<circle cx="373.5" cy="28.23" r="2.6" fill="#8e9093"/>
<circle cx="374.6" cy="37.17" r="2.6" fill="#8e9093"/>
<circle cx="374.4" cy="46.11" r="2.6" fill="#8e9093"/>
<circle cx="376" cy="55.04" r="2.6" fill="#8e9093"/>
<circle cx="377.2" cy="63.98" r="2.6" fill="#8e9093"/>
<circle cx="378.8" cy="72.91" r="2.6" fill="#8e9093"/>
<circle cx="378.9" cy="81.84" r="2.6" fill="#8e9093"/>
<circle cx="380" cy="90.78" r="2.6" fill="#8e9093"/>
<circle cx="381.1" cy="99.72" r="2.6" fill="#8e9093"/>
<circle cx="381.5" cy="108.65" r="2.6" fill="#8e9093"/>
<circle cx="381.8" cy="117.59" r="2.6" fill="#8e9093"/>
<circle cx="381.5" cy="126.52" r="2.6" fill="#8e9093"/>
<circle cx="382" cy="135.46" r="2.6" fill="#8e9093"/>
<circle cx="382" cy="144.39" r="2.6" fill="#8e9093"/>
<circle cx="383.1" cy="153.33" r="2.6" fill="#8e9093"/>
<circle cx="383.4" cy="162.26" r="2.6" fill="#8e9093"/>
<circle cx="383.8" cy="171.2" r="2.6" fill="#8e9093"/>
<circle cx="383.8" cy="180.13" r="2.6" fill="#8e9093"/>
<circle cx="384.3" cy="189.07" r="2.6" fill="#8e9093"/>
<circle cx="389.2" cy="198" r="2.6" fill="#8e9093"/>
<circle cx="390.3" cy="206.94" r="2.6" fill="#8e9093"/>
<circle cx="391.8" cy="215.87" r="2.6" fill="#8e9093"/>
<circle cx="391.8" cy="224.81" r="2.6" fill="#8e9093"/>
<circle cx="395.7" cy="233.74" r="2.6" fill="#8e9093"/>
<circle cx="395.8" cy="242.68" r="2.6" fill="#8e9093"/>
<circle cx="397.2" cy="251.61" r="2.6" fill="#8e9093"/>
<circle cx="397.7" cy="260.55" r="2.6" fill="#8e9093"/>
<circle cx="411.3" cy="269.48" r="2.6" fill="#c8102e"/>
<circle cx="418.5" cy="278.42" r="2.6" fill="#8e9093"/>
<circle cx="426.2" cy="287.35" r="2.6" fill="#d7576f"/>
<circle cx="442.8" cy="296.29" r="2.6" fill="#8e9093"/>
<circle cx="448.2" cy="305.22" r="2.6" fill="#8e9093"/>
<circle cx="448.2" cy="314.16" r="2.6" fill="#8e9093"/>
<line x1="363.1" y1="11.9" x2="363.1" y2="381.4" stroke="#383838" stroke-width="1.4"/>
<line x1="362.4" y1="380.7" x2="508.64" y2="380.7" stroke="#383838" stroke-width="1.4"/>
<line x1="359.8" y1="19.3" x2="363.1" y2="19.3" stroke="#383838" stroke-width="1"/>
<text x="356.1" y="22.5" class="lb" textLength="20.09" lengthAdjust="spacingAndGlyphs">CALR</text>
<line x1="359.8" y1="28.23" x2="363.1" y2="28.23" stroke="#383838" stroke-width="1"/>
<text x="356.1" y="31.43" class="lb" textLength="14.66" lengthAdjust="spacingAndGlyphs">CBL</text>
<line x1="359.8" y1="37.17" x2="363.1" y2="37.17" stroke="#383838" stroke-width="1"/>
<text x="356.1" y="40.37" class="lb" textLength="18.45" lengthAdjust="spacingAndGlyphs">IDH1</text>
<line x1="359.8" y1="46.11" x2="363.1" y2="46.11" stroke="#383838" stroke-width="1"/>
<text x="356.1" y="49.31" class="lb" textLength="24.01" lengthAdjust="spacingAndGlyphs">CSF3R</text>
<line x1="359.8" y1="55.04" x2="363.1" y2="55.04" stroke="#383838" stroke-width="1"/>
<text x="356.1" y="58.24" class="lb" textLength="21.53" lengthAdjust="spacingAndGlyphs">NPM1</text>
<line x1="359.8" y1="63.98" x2="363.1" y2="63.98" stroke="#383838" stroke-width="1"/>
<text x="356.1" y="67.18" class="lb" textLength="23.13" lengthAdjust="spacingAndGlyphs">ZRSR2</text>
<line x1="359.8" y1="72.91" x2="363.1" y2="72.91" stroke="#383838" stroke-width="1"/>
<text x="356.1" y="76.11" class="lb" textLength="25.37" lengthAdjust="spacingAndGlyphs">RUNX1</text>
<line x1="359.8" y1="81.84" x2="363.1" y2="81.84" stroke="#383838" stroke-width="1"/>
<text x="356.1" y="85.05" class="lb" textLength="17.76" lengthAdjust="spacingAndGlyphs">TET2</text>
<line x1="359.8" y1="90.78" x2="363.1" y2="90.78" stroke="#383838" stroke-width="1"/>
<text x="356.1" y="93.98" class="lb" textLength="22.61" lengthAdjust="spacingAndGlyphs">SRSF2</text>
<line x1="359.8" y1="99.72" x2="363.1" y2="99.72" stroke="#383838" stroke-width="1"/>
<text x="356.1" y="102.92" class="lb" textLength="10.74" lengthAdjust="spacingAndGlyphs">KIT</text>
<line x1="359.8" y1="108.65" x2="363.1" y2="108.65" stroke="#383838" stroke-width="1"/>
<text x="356.1" y="111.85" class="lb" textLength="24.96" lengthAdjust="spacingAndGlyphs">STAG2</text>
<line x1="359.8" y1="117.59" x2="363.1" y2="117.59" stroke="#383838" stroke-width="1"/>
<text x="356.1" y="120.79" class="lb" textLength="49.22" lengthAdjust="spacingAndGlyphs">FLT3-ITD_low</text>
<line x1="359.8" y1="126.52" x2="363.1" y2="126.52" stroke="#383838" stroke-width="1"/>
<text x="356.1" y="129.72" class="lb" textLength="33.33" lengthAdjust="spacingAndGlyphs">DNMT3A</text>
<line x1="359.8" y1="135.46" x2="363.1" y2="135.46" stroke="#383838" stroke-width="1"/>
<text x="356.1" y="138.66" class="lb" textLength="19.21" lengthAdjust="spacingAndGlyphs">EZH2</text>
<line x1="359.8" y1="144.39" x2="363.1" y2="144.39" stroke="#383838" stroke-width="1"/>
<text x="356.1" y="147.59" class="lb" textLength="23.64" lengthAdjust="spacingAndGlyphs">ASXL1</text>
<line x1="359.8" y1="153.33" x2="363.1" y2="153.33" stroke="#383838" stroke-width="1"/>
<text x="356.1" y="156.53" class="lb" textLength="29.01" lengthAdjust="spacingAndGlyphs">PTPN11</text>
<line x1="359.8" y1="162.26" x2="363.1" y2="162.26" stroke="#383838" stroke-width="1"/>
<text x="356.1" y="165.46" class="lb" textLength="41.82" lengthAdjust="spacingAndGlyphs">IDH2_R140</text>
<line x1="359.8" y1="171.2" x2="363.1" y2="171.2" stroke="#383838" stroke-width="1"/>
<text x="356.1" y="174.4" class="lb" textLength="20.48" lengthAdjust="spacingAndGlyphs">NRAS</text>
<line x1="359.8" y1="180.13" x2="363.1" y2="180.13" stroke="#383838" stroke-width="1"/>
<text x="356.1" y="183.33" class="lb" textLength="27.47" lengthAdjust="spacingAndGlyphs">SETBP1</text>
<line x1="359.8" y1="189.07" x2="363.1" y2="189.07" stroke="#383838" stroke-width="1"/>
<text x="356.1" y="192.27" class="lb" textLength="16.62" lengthAdjust="spacingAndGlyphs">WT1</text>
<line x1="359.8" y1="198" x2="363.1" y2="198" stroke="#383838" stroke-width="1"/>
<text x="356.1" y="201.2" class="lb" textLength="23.21" lengthAdjust="spacingAndGlyphs">SF3B1</text>
<line x1="359.8" y1="206.94" x2="363.1" y2="206.94" stroke="#383838" stroke-width="1"/>
<text x="356.1" y="210.14" class="lb" textLength="18.78" lengthAdjust="spacingAndGlyphs">ETV6</text>
<line x1="359.8" y1="215.87" x2="363.1" y2="215.87" stroke="#383838" stroke-width="1"/>
<text x="356.1" y="219.07" class="lb" textLength="40.17" lengthAdjust="spacingAndGlyphs">CEBPA_sm</text>
<line x1="359.8" y1="224.81" x2="363.1" y2="224.81" stroke="#383838" stroke-width="1"/>
<text x="356.1" y="228.01" class="lb" textLength="30.86" lengthAdjust="spacingAndGlyphs">BCORL1</text>
<line x1="359.8" y1="233.74" x2="363.1" y2="233.74" stroke="#383838" stroke-width="1"/>
<text x="356.1" y="236.94" class="lb" textLength="25.24" lengthAdjust="spacingAndGlyphs">U2AF1</text>
<line x1="359.8" y1="242.68" x2="363.1" y2="242.68" stroke="#383838" stroke-width="1"/>
<text x="356.1" y="245.88" class="lb" textLength="21.4" lengthAdjust="spacingAndGlyphs">BCOR</text>
<line x1="359.8" y1="251.61" x2="363.1" y2="251.61" stroke="#383838" stroke-width="1"/>
<text x="356.1" y="254.81" class="lb" textLength="18.37" lengthAdjust="spacingAndGlyphs">JAK2</text>
<line x1="359.8" y1="260.55" x2="363.1" y2="260.55" stroke="#383838" stroke-width="1"/>
<text x="356.1" y="263.75" class="lb" textLength="26.39" lengthAdjust="spacingAndGlyphs">GATA2</text>
<line x1="359.8" y1="269.48" x2="363.1" y2="269.48" stroke="#383838" stroke-width="1"/>
<text x="356.1" y="272.68" class="lb" textLength="18.31" lengthAdjust="spacingAndGlyphs">TP53</text>
<line x1="359.8" y1="278.42" x2="363.1" y2="278.42" stroke="#383838" stroke-width="1"/>
<text x="356.1" y="281.62" class="lb" textLength="36.02" lengthAdjust="spacingAndGlyphs">FLT3_TKD</text>
<line x1="359.8" y1="287.35" x2="363.1" y2="287.35" stroke="#383838" stroke-width="1"/>
<text x="356.1" y="290.55" class="lb" textLength="19.55" lengthAdjust="spacingAndGlyphs">KRAS</text>
<line x1="359.8" y1="296.29" x2="363.1" y2="296.29" stroke="#383838" stroke-width="1"/>
<text x="356.1" y="299.49" class="lb" textLength="15.91" lengthAdjust="spacingAndGlyphs">RIT1</text>
<line x1="359.8" y1="305.22" x2="363.1" y2="305.22" stroke="#383838" stroke-width="1"/>
<text x="356.1" y="308.42" class="lb" textLength="19.18" lengthAdjust="spacingAndGlyphs">PHF6</text>
<line x1="359.8" y1="314.16" x2="363.1" y2="314.16" stroke="#383838" stroke-width="1"/>
<text x="356.1" y="317.36" class="lb" textLength="27.43" lengthAdjust="spacingAndGlyphs">SMC1A</text>
<line x1="359.8" y1="323.09" x2="363.1" y2="323.09" stroke="#383838" stroke-width="1"/>
<text x="356.1" y="326.29" class="lb" textLength="52.37" lengthAdjust="spacingAndGlyphs">FLT3-ITD_high</text>
<line x1="359.8" y1="332.03" x2="363.1" y2="332.03" stroke="#383838" stroke-width="1"/>
<text x="356.1" y="335.23" class="lb" textLength="41.12" lengthAdjust="spacingAndGlyphs">CEBPA_dm</text>
<line x1="359.8" y1="340.96" x2="363.1" y2="340.96" stroke="#383838" stroke-width="1"/>
<text x="356.1" y="344.16" class="lb" textLength="15.08" lengthAdjust="spacingAndGlyphs">MPL</text>
<line x1="359.8" y1="349.9" x2="363.1" y2="349.9" stroke="#383838" stroke-width="1"/>
<text x="356.1" y="353.1" class="lb" textLength="41.82" lengthAdjust="spacingAndGlyphs">IDH2_R172</text>
<line x1="359.8" y1="358.83" x2="363.1" y2="358.83" stroke="#383838" stroke-width="1"/>
<text x="356.1" y="362.03" class="lb" textLength="21.3" lengthAdjust="spacingAndGlyphs">NIPBL</text>
<line x1="359.8" y1="367.77" x2="363.1" y2="367.77" stroke="#383838" stroke-width="1"/>
<text x="356.1" y="370.97" class="lb" textLength="25.11" lengthAdjust="spacingAndGlyphs">RAD21</text>
<line x1="359.8" y1="376.7" x2="363.1" y2="376.7" stroke="#383838" stroke-width="1"/>
<text x="356.1" y="379.9" class="lb" textLength="21.51" lengthAdjust="spacingAndGlyphs">SMC3</text>
<line x1="363.1" y1="380.7" x2="363.1" y2="384" stroke="#383838" stroke-width="1"/>
<text x="363.1" y="393.2" class="tk">0</text>
<line x1="383.82" y1="380.7" x2="383.82" y2="384" stroke="#383838" stroke-width="1"/>
<text x="383.82" y="393.2" class="tk">1</text>
<line x1="404.54" y1="380.7" x2="404.54" y2="384" stroke="#383838" stroke-width="1"/>
<text x="404.54" y="393.2" class="tk">2</text>
<line x1="425.26" y1="380.7" x2="425.26" y2="384" stroke="#383838" stroke-width="1"/>
<text x="425.26" y="393.2" class="tk">3</text>
<line x1="445.98" y1="380.7" x2="445.98" y2="384" stroke="#383838" stroke-width="1"/>
<text x="445.98" y="393.2" class="tk">4</text>
<line x1="466.7" y1="380.7" x2="466.7" y2="384" stroke="#383838" stroke-width="1"/>
<text x="466.7" y="393.2" class="tk">5</text>
<line x1="487.42" y1="380.7" x2="487.42" y2="384" stroke="#383838" stroke-width="1"/>
<text x="487.42" y="393.2" class="tk">6</text>
<line x1="508.14" y1="380.7" x2="508.14" y2="384" stroke="#383838" stroke-width="1"/>
<text x="508.14" y="393.2" class="tk">7</text>
<text x="435.62" y="404.6" class="ax">Hazard ratio</text>
<text x="292.5" y="17.6" class="pl">B</text>
<text x="240.4" y="260.1" class="lg">Favorable</text>
<circle cx="227.8" cy="271.8" r="4.9" fill="#7c78c3"/>
<text x="240" y="274.5" class="lg"><tspan font-style="italic">P</tspan>&lt;0.05</text>
<text x="240.4" y="308.7" class="lg">Detrimental</text>
<circle cx="227.9" cy="319.7" r="4.9" fill="#e9a3b0"/>
<text x="240" y="322.2" class="lg"><tspan font-style="italic">P</tspan>&lt;0.05</text>
<circle cx="227.9" cy="334.5" r="4.9" fill="#d7576f"/>
<text x="240" y="337" class="lg"><tspan font-style="italic">P</tspan>&lt;0.01</text>
<circle cx="227.9" cy="349.0" r="4.9" fill="#c8102e"/>
<text x="240" y="351.5" class="lg"><tspan font-style="italic">P</tspan>&lt;0.001</text>
</svg>
<div class="bd" style="left:0;top:0;width:520px;height:1px"></div>
<div class="bd" style="left:0;top:0;width:1px;height:412px"></div>
<div class="bd" style="left:0;top:1px;width:520px;height:1px;background:rgba(0,0,0,0.3)"></div>
<div class="bd" style="right:1px;top:0;width:1px;height:412px;background:rgba(0,0,0,0.55)"></div>
<div class="bd" style="left:0;bottom:1px;width:520px;height:1px;background:rgba(0,0,0,0.55)"></div>
<div class="bd" style="right:0;top:0;width:1px;height:412px"></div>
<div class="bd" style="left:0;bottom:0;width:520px;height:1px"></div>
</body></html>
